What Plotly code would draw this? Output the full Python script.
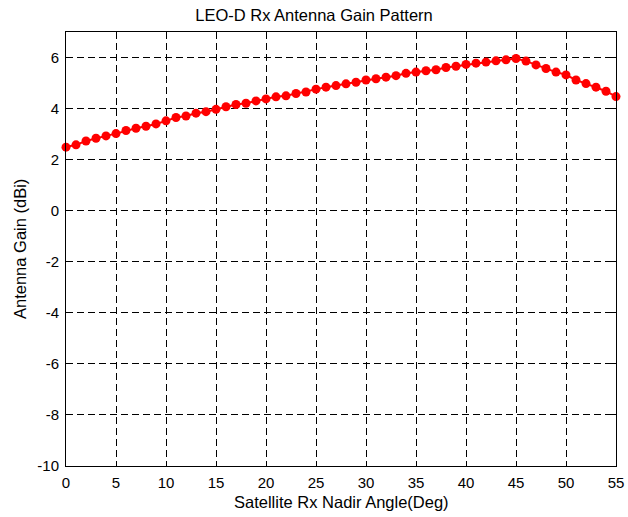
import plotly.graph_objects as go

angles = list(range(0, 56))
gain = [2.49, 2.58, 2.73, 2.84, 2.93, 3.02, 3.14, 3.23, 3.31, 3.40,
        3.52, 3.65, 3.71, 3.82, 3.88, 3.97, 4.07, 4.16, 4.21, 4.30,
        4.38, 4.46, 4.50, 4.59, 4.65, 4.76, 4.84, 4.90, 4.97, 5.03,
        5.12, 5.17, 5.23, 5.29, 5.38, 5.43, 5.48, 5.52, 5.61, 5.66,
        5.73, 5.78, 5.82, 5.87, 5.91, 5.96, 5.86, 5.71, 5.57, 5.43,
        5.32, 5.12, 4.98, 4.84, 4.68, 4.47]

xtick_vals = [0, 5, 10, 15, 20, 25, 30, 35, 40, 45, 50, 55]
xtick_labels = ["0", "5", "10", "15", "20", "25", "30", "35", "40", "45", "50", "55"]
ytick_vals = [-10, -8, -6, -4, -2, 0, 2, 4, 6]
ytick_labels = ["-10", "-8", "-6", "-4", "-2", "0", "2", "4", "6"]

title = "LEO-D Rx Antenna Gain Pattern"
xlabel = "Satellite Rx Nadir Angle(Deg)"
ylabel = "Antenna Gain (dBi)"

font = "Liberation Sans, Arial, sans-serif"
W, H = 628, 517

fig = go.Figure()
fig.add_trace(go.Scatter(
    x=angles, y=gain, mode="lines+markers",
    line=dict(color="#ff0000", width=2),
    marker=dict(color="#ff0000", size=9, symbol="circle"),
    cliponaxis=False,
    showlegend=False,
))

axis_common = dict(
    showline=True, linecolor="black", linewidth=1, mirror="ticks",
    ticks="inside", ticklen=5, tickcolor="black", tickwidth=1,
    showgrid=True, gridcolor="black", griddash="7px,4px", gridwidth=1,
    zeroline=False, automargin=False, ticklabelstandoff=3,
    tickfont=dict(family=font, size=15, color="black"),
)

fig.update_layout(
    width=W, height=H,
    paper_bgcolor="white", plot_bgcolor="white",
    margin=dict(l=66, r=12, t=32, b=51),
    title=dict(text=title, x=0.5, xanchor="center", y=1 - 15 / H, yanchor="middle",
               font=dict(family=font, size=16.5, color="black")),
    xaxis=dict(range=[0, 55], tickmode="array", tickvals=xtick_vals,
               ticktext=xtick_labels, **axis_common),
    yaxis=dict(range=[-10, 7], tickmode="array", tickvals=ytick_vals,
               ticktext=ytick_labels, **axis_common),
    annotations=[
        dict(text=xlabel, xref="paper", yref="paper", x=0.5, y=0,
             xanchor="center", yanchor="middle", yshift=-36, showarrow=False,
             font=dict(family=font, size=16.5, color="black")),
        dict(text=ylabel, xref="paper", yref="paper", x=0, y=0.5,
             xanchor="center", yanchor="middle", xshift=-46, textangle=-90,
             showarrow=False, font=dict(family=font, size=16.5, color="black")),
    ],
)

fig.write_html("out.html", config={"displayModeBar": False},
               post_script="document.body.style.margin='0';")
